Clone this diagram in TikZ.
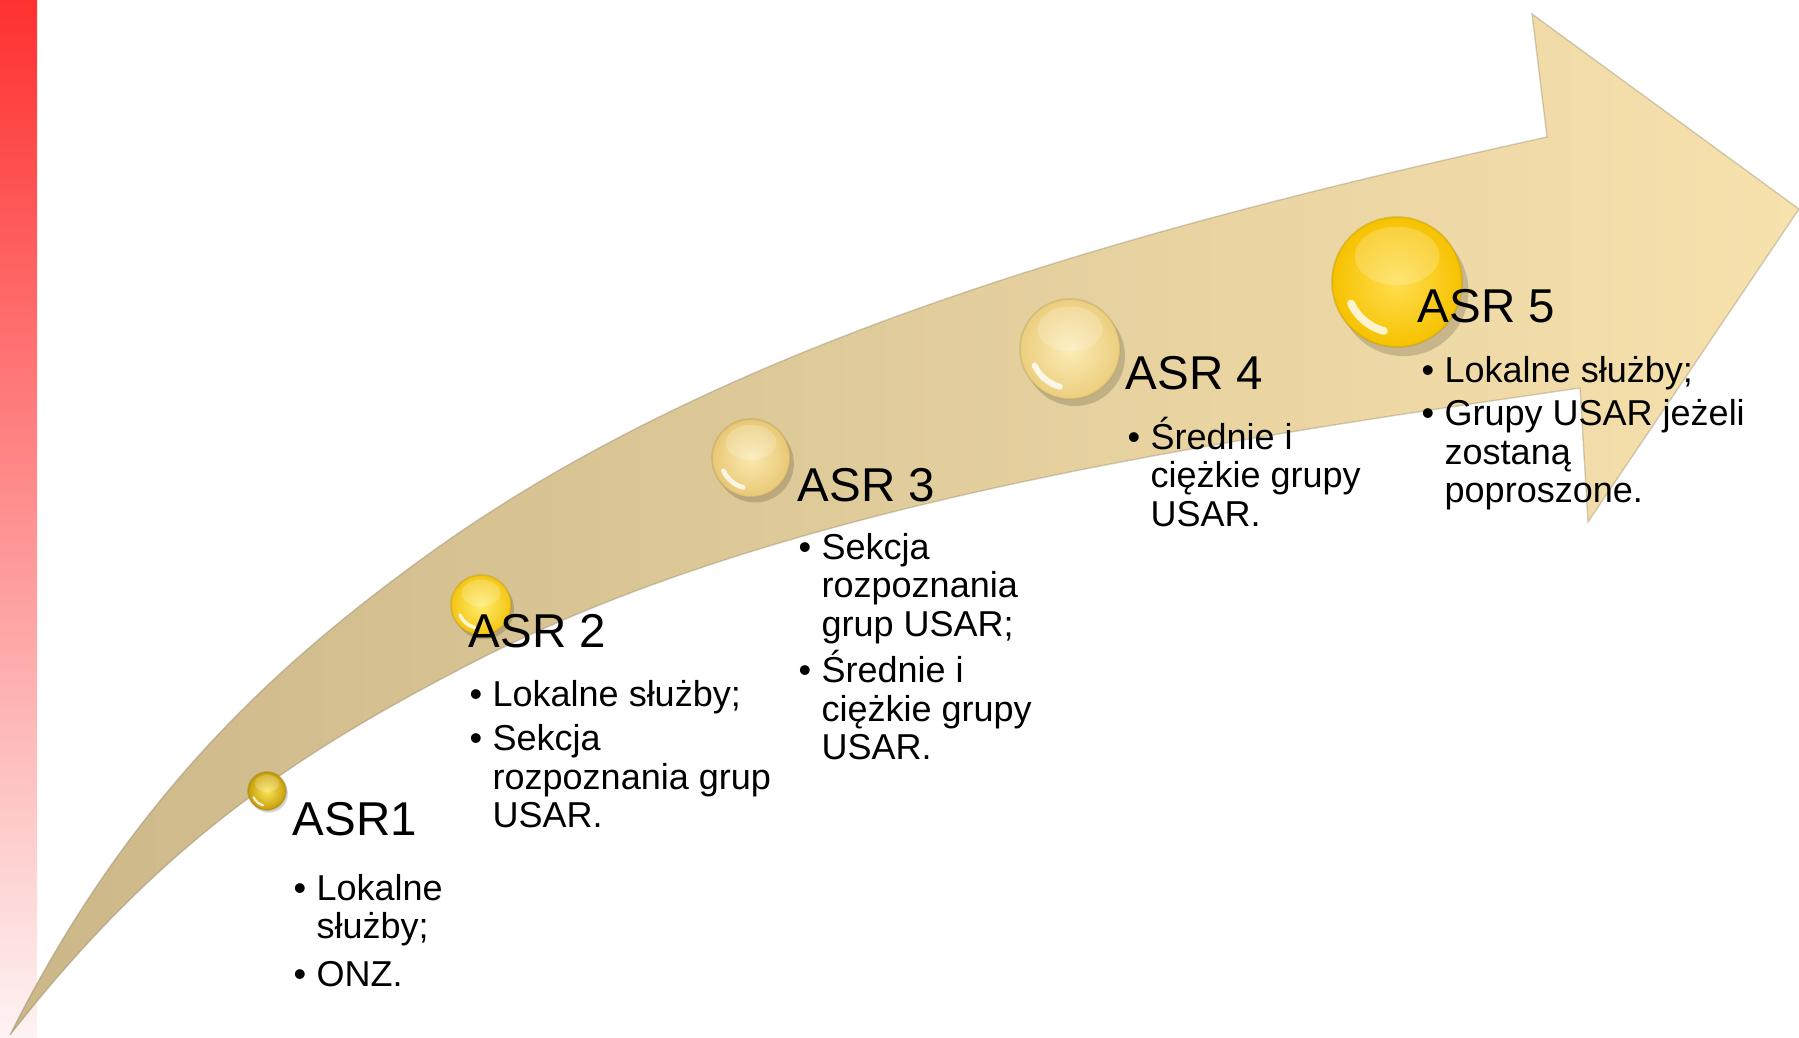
\documentclass[tikz,border=0pt]{standalone}
\usepackage{fontspec}
\setmainfont{Liberation Sans}

\definecolor{pasekG}{RGB}{255,48,48}
\definecolor{pasekD}{RGB}{254,243,243}
\definecolor{strzL}{RGB}{203,183,136}
\definecolor{strzP}{RGB}{247,226,174}
\definecolor{k1i}{RGB}{252,228,90}
\definecolor{k1o}{RGB}{198,158,8}
\definecolor{k2i}{RGB}{255,236,110}
\definecolor{k2o}{RGB}{244,198,18}
\definecolor{k3i}{RGB}{251,233,176}
\definecolor{k3o}{RGB}{232,200,118}
\definecolor{k4i}{RGB}{252,236,182}
\definecolor{k4o}{RGB}{236,206,126}
\definecolor{k5i}{RGB}{255,222,80}
\definecolor{k5o}{RGB}{246,194,0}

\newcommand{\bitem}{\makebox[2.3mm][l]{\textbullet}}
\newcommand{\bcont}{\hspace*{2.3mm}}
\newcommand{\blok}[1]{\vtop{\baselineskip=3.85mm\lineskiplimit=-20mm\lineskip=0pt #1}}

\tikzset{
  naglowek/.style={anchor=base west, inner sep=0pt, font=\fontsize{4.75mm}{5.5mm}\selectfont},
  lista/.style={anchor=base west, inner sep=0pt, font=\fontsize{3.6mm}{3.85mm}\selectfont},
}

\begin{document}
\begin{tikzpicture}[x=0.1mm, y=-0.1mm]
    \useasboundingbox (0,0) rectangle (1799,1038);

    % Pasek po lewej
    \shade[top color=pasekG, bottom color=pasekD] (0,0) rectangle (37,1038);

    % Strzalka
    \draw[left color=strzL, right color=strzP, draw=strzL!60!black, draw opacity=.3, line width=.4pt]
    (10,1035) .. controls (130,795) and (280,661) .. (430,553)
              .. controls (730,337) and (1147,225) .. (1547,137)
    -- (1532,14) -- (1799,209) -- (1588,522) -- (1580,388)
              .. controls (1180,446) and (768,509) .. (468,665)
              .. controls (298,753) and (160,843) .. (10,1035)
    -- cycle;

    % Kule
    \foreach \x/\y/\r/\ci/\co in {267/791/19/k1i/k1o, 481/605/30/k2i/k2o, 751/458/39/k3i/k3o,
                                  1070/349/50/k4i/k4o, 1397/282/65/k5i/k5o}{
        \fill[black, opacity=.16] ({\x+0.1*\r},{\y+0.14*\r}) circle (\r);
        \shade[inner color=\ci, outer color=\co] (\x,\y) circle (\r);
        \draw[\co!75!black, opacity=.35, line width=.5pt] (\x,\y) circle (\r);
        \fill[white, opacity=.2] (\x,{\y-0.4*\r}) ellipse ({0.65*\r} and {0.45*\r});
        \draw[white, opacity=.8, line width={\r*0.012mm}, line cap=round]
            (\x,\y) ++(205:{\r*0.078mm}) arc (205:255:{\r*0.078mm});
    }

    % Naglowki
    \node[naglowek] (asr1) at (292,835) {ASR1};
    \node[naglowek] (asr2) at (468,647) {ASR 2};
    \node[naglowek] (asr3) at (797,501) {ASR 3};
    \node[naglowek] (asr4) at (1125,389) {ASR 4};
    \node[naglowek] (asr5) at (1417,322) {ASR 5};

    % Listy
    \node[lista] (l1) at (293,900) {\blok{\hbox{\bitem Lokalne}\hbox{\bcont służby;}\vskip.9mm
        \hbox{\bitem ONZ.}}};
    \node[lista] (l2) at (469,706) {\blok{\hbox{\bitem Lokalne służby;}\vskip.6mm
        \hbox{\bitem Sekcja}\hbox{\bcont rozpoznania grup}\hbox{\bcont USAR.}}};
    \node[lista] (l3) at (798,559) {\blok{\hbox{\bitem Sekcja}\hbox{\bcont rozpoznania}
        \hbox{\bcont grup USAR;}\vskip.8mm
        \hbox{\bitem Średnie i}\hbox{\bcont ciężkie grupy}\hbox{\bcont USAR.}}};
    \node[lista] (l4) at (1127,449) {\blok{\hbox{\bitem Średnie i}\hbox{\bcont ciężkie grupy}
        \hbox{\bcont USAR.}}};
    \node[lista] (l5) at (1421,382) {\blok{\hbox{\bitem Lokalne służby;}\vskip.5mm
        \hbox{\bitem Grupy USAR jeżeli}\hbox{\bcont zostaną}\hbox{\bcont poproszone.}}};
\end{tikzpicture}
\end{document}
